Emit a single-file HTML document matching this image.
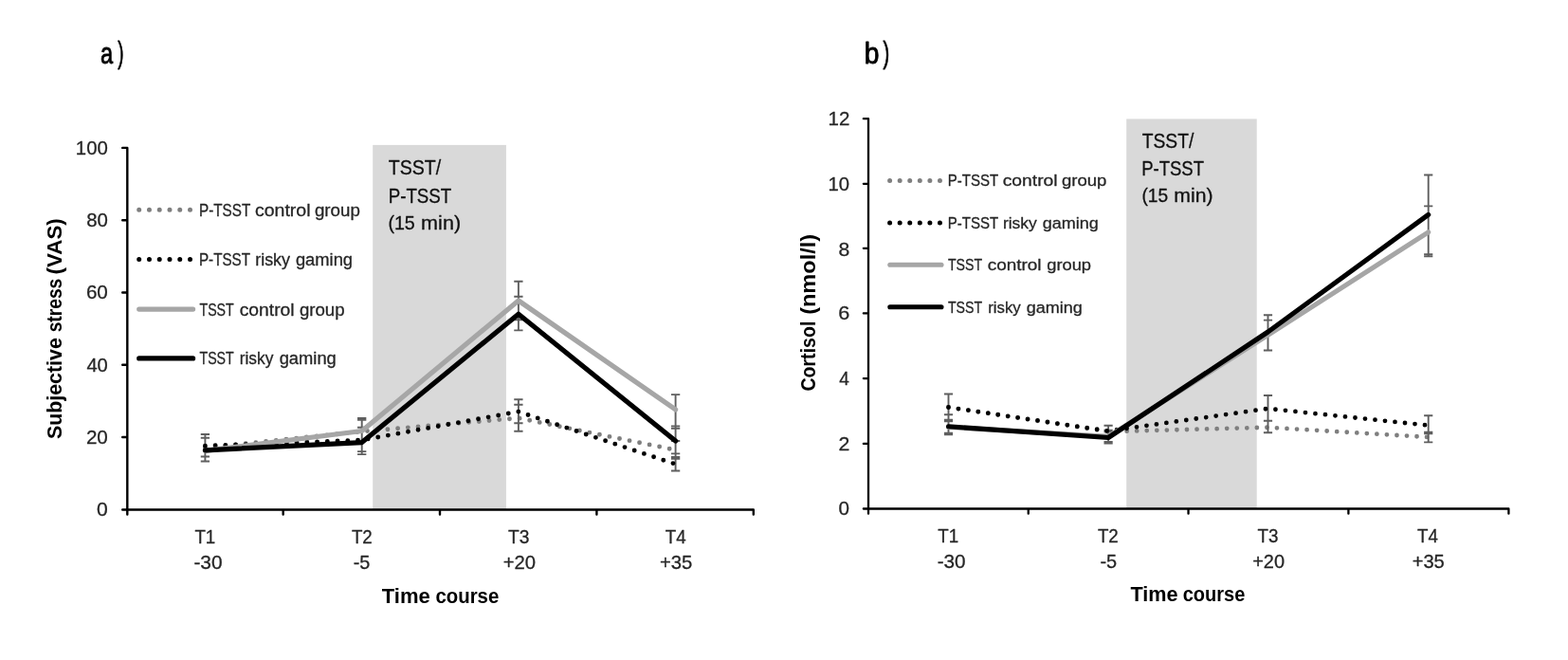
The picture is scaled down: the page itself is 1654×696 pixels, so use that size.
<!DOCTYPE html>
<html lang="en">
<head>
<meta charset="utf-8">
<title>Subjective stress (VAS) and cortisol (nmol/l) over the time course</title>
<style>
html,body{margin:0;padding:0;background:#fff;}
body{width:1654px;height:696px;overflow:hidden;}
svg{display:block;font-family:"Liberation Sans", sans-serif;}
</style>
</head>
<body>
<svg width="1654" height="696" viewBox="0 0 1654 696" role="img" aria-label="a) Subjective stress (VAS) and b) Cortisol (nmol/l) over the time course T1 to T4 for TSST and P-TSST groups">
<rect width="1654" height="696" fill="#fff"/>
<rect x="393.2" y="152.9" width="140.70" height="384.60" fill="#d9d9d9"/>
<polyline points="216.40,472.20 381.70,455.00 546.90,440.90 712.60,474.50" fill="none" stroke="#7f7f7f" stroke-width="4.9" stroke-linecap="round" stroke-linejoin="round" stroke-dasharray="0 10.75"/>
<path d="M216.40 457.96V486.50M211.75 457.96h9.30M211.75 461.76h9.30M211.75 481.50h9.30M211.75 486.50h9.30M381.70 441.00V479.10M377.05 441.00h9.30M377.05 442.80h9.30M377.05 450.70h9.30M377.05 476.10h9.30M377.05 479.10h9.30M546.90 296.70V348.40M542.25 296.70h9.30M542.25 312.80h9.30M542.25 337.20h9.30M542.25 348.40h9.30M546.90 421.20V454.80M542.25 421.20h9.30M542.25 426.70h9.30M542.25 446.20h9.30M542.25 454.80h9.30M712.60 416.10V496.50M707.95 416.10h9.30M707.95 449.40h9.30M707.95 451.70h9.30M707.95 465.00h9.30M707.95 478.40h9.30M707.95 482.00h9.30M707.95 483.80h9.30M707.95 496.50h9.30" fill="none" stroke="#5f5f5f" stroke-width="1.9"/>
<polyline points="216.40,470.20 381.70,464.10 546.90,434.10 712.60,489.50" fill="none" stroke="#000" stroke-width="4.9" stroke-linecap="round" stroke-linejoin="round" stroke-dasharray="0 10.75"/>
<polyline points="216.40,475.30 381.70,454.50 546.90,317.00 712.60,431.90" fill="none" stroke="#a6a6a6" stroke-width="5.2" stroke-linecap="round" stroke-linejoin="round"/>
<polyline points="216.40,474.80 381.70,466.60 546.90,331.20 712.60,465.00" fill="none" stroke="#000" stroke-width="5.2" stroke-linecap="round" stroke-linejoin="round"/>
<path d="M134.30 155.90V542.60M129.20 537.50H794.80M129.20 155.90H134.30M129.20 232.30H134.30M129.20 308.50H134.30M129.20 384.70H134.30M129.20 461.00H134.30M298.67 537.50V542.60M464.00 537.50V542.60M629.40 537.50V542.60M794.80 537.50V542.60" fill="none" stroke="#000" stroke-width="2.4" stroke-linecap="round" stroke-linejoin="round"/>
<path d="M146.7 221.3H201.5" stroke="#7f7f7f" stroke-width="5.0" stroke-linecap="round" stroke-dasharray="0 10.76"/>
<path d="M146.7 273.5H201.5" stroke="#000" stroke-width="5.0" stroke-linecap="round" stroke-dasharray="0 10.76"/>
<path d="M146.7 326.1H203.6" stroke="#a6a6a6" stroke-width="5.2" stroke-linecap="round"/>
<path d="M146.7 377.9H203.6" stroke="#000" stroke-width="5.2" stroke-linecap="round"/>
<rect x="1188.2" y="125.4" width="137.50" height="411.10" fill="#d9d9d9"/>
<polyline points="1000.50,429.50 1169.10,455.20 1337.50,450.70 1506.70,461.00" fill="none" stroke="#7f7f7f" stroke-width="4.8" stroke-linecap="round" stroke-linejoin="round" stroke-dasharray="0 10.56"/>
<path d="M1000.50 415.50V458.40M995.90 415.50h9.20M995.90 437.30h9.20M995.90 442.70h9.20M995.90 444.40h9.20M995.90 456.70h9.20M995.90 458.40h9.20M1169.10 448.80V467.60M1164.50 448.80h9.20M1164.50 453.60h9.20M1164.50 455.20h9.20M1164.50 465.90h9.20M1164.50 467.60h9.20M1337.50 332.20V369.50M1332.90 332.20h9.20M1332.90 337.60h9.20M1332.90 369.50h9.20M1337.50 417.00V456.30M1332.90 417.00h9.20M1332.90 443.70h9.20M1332.90 456.30h9.20M1506.70 184.50V270.20M1502.10 184.50h9.20M1502.10 217.40h9.20M1502.10 268.10h9.20M1502.10 270.20h9.20M1506.70 438.30V466.40M1502.10 438.30h9.20M1502.10 455.60h9.20M1502.10 457.20h9.20M1502.10 466.40h9.20" fill="none" stroke="#5f5f5f" stroke-width="1.9"/>
<polyline points="1000.50,429.50 1169.10,454.50 1337.50,430.90 1506.70,448.60" fill="none" stroke="#000" stroke-width="4.8" stroke-linecap="round" stroke-linejoin="round" stroke-dasharray="0 10.56"/>
<polyline points="1000.50,450.50 1169.10,460.30 1337.50,353.40 1506.70,244.80" fill="none" stroke="#a6a6a6" stroke-width="5.1" stroke-linecap="round" stroke-linejoin="round"/>
<polyline points="1000.50,449.80 1169.10,461.50 1337.50,350.00 1506.70,226.40" fill="none" stroke="#000" stroke-width="5.1" stroke-linecap="round" stroke-linejoin="round"/>
<path d="M916.00 125.20V541.65M910.85 536.50H1591.40M910.85 125.20H916.00M910.85 193.80H916.00M910.85 261.80H916.00M910.85 330.40H916.00M910.85 399.10H916.00M910.85 467.90H916.00M1084.75 536.50V541.65M1253.55 536.50V541.65M1422.40 536.50V541.65M1591.40 536.50V541.65" fill="none" stroke="#000" stroke-width="2.3" stroke-linecap="round" stroke-linejoin="round"/>
<path d="M938.6 190.4H992.9" stroke="#7f7f7f" stroke-width="5.0" stroke-linecap="round" stroke-dasharray="0 10.57"/>
<path d="M938.6 234.9H992.9" stroke="#000" stroke-width="5.0" stroke-linecap="round" stroke-dasharray="0 10.57"/>
<path d="M938.8 279.2H993.0" stroke="#a6a6a6" stroke-width="5.1" stroke-linecap="round"/>
<path d="M938.8 323.7H993.0" stroke="#000" stroke-width="5.1" stroke-linecap="round"/>
<text id="La" y="67.00" font-size="32.2" stroke="#000" stroke-width="0.9" stroke-linejoin="round" fill="#000"><tspan id="La_0" x="105.94" textLength="13.11" lengthAdjust="spacingAndGlyphs">a</tspan><tspan id="La_1" x="124.15" dy="-1" textLength="6.20" lengthAdjust="spacingAndGlyphs">)</tspan></text>
<text id="Ly100" y="163.00" font-size="20.8" stroke="#262626" stroke-width="0.3" stroke-linejoin="round" fill="#262626"><tspan id="Ly100_0" x="79.86" textLength="33.95" lengthAdjust="spacingAndGlyphs">100</tspan></text>
<text id="Ly80" y="239.00" font-size="20.8" stroke="#262626" stroke-width="0.3" stroke-linejoin="round" fill="#262626"><tspan id="Ly80_0" x="91.19" textLength="22.65" lengthAdjust="spacingAndGlyphs">80</tspan></text>
<text id="Ly60" y="315.00" font-size="20.8" stroke="#262626" stroke-width="0.3" stroke-linejoin="round" fill="#262626"><tspan id="Ly60_0" x="90.92" textLength="22.93" lengthAdjust="spacingAndGlyphs">60</tspan></text>
<text id="Ly40" y="392.00" font-size="20.8" stroke="#262626" stroke-width="0.3" stroke-linejoin="round" fill="#262626"><tspan id="Ly40_0" x="91.43" textLength="22.37" lengthAdjust="spacingAndGlyphs">40</tspan></text>
<text id="Ly20" y="468.00" font-size="20.8" stroke="#262626" stroke-width="0.3" stroke-linejoin="round" fill="#262626"><tspan id="Ly20_0" x="90.92" textLength="22.93" lengthAdjust="spacingAndGlyphs">20</tspan></text>
<text id="Ly0" y="544.00" font-size="20.8" stroke="#262626" stroke-width="0.3" stroke-linejoin="round" fill="#262626"><tspan id="Ly0_0" x="102.10" textLength="11.74" lengthAdjust="spacingAndGlyphs">0</tspan></text>
<text id="Lx0a" y="573.00" font-size="20.2" stroke="#262626" stroke-width="0.3" stroke-linejoin="round" fill="#262626"><tspan id="Lx0a_0" x="205.43" textLength="21.88" lengthAdjust="spacingAndGlyphs">T1</tspan></text>
<text id="Lx0b" y="600.00" font-size="20.8" stroke="#262626" stroke-width="0.3" stroke-linejoin="round" fill="#262626"><tspan id="Lx0b_0" x="204.43" textLength="30.14" lengthAdjust="spacingAndGlyphs">-30</tspan></text>
<text id="Lx1a" y="573.00" font-size="20.2" stroke="#262626" stroke-width="0.3" stroke-linejoin="round" fill="#262626"><tspan id="Lx1a_0" x="370.91" textLength="21.90" lengthAdjust="spacingAndGlyphs">T2</tspan></text>
<text id="Lx1b" y="600.00" font-size="20.8" stroke="#262626" stroke-width="0.3" stroke-linejoin="round" fill="#262626"><tspan id="Lx1b_0" x="372.66" textLength="17.68" lengthAdjust="spacingAndGlyphs">-5</tspan></text>
<text id="Lx2a" y="573.00" font-size="20.2" stroke="#262626" stroke-width="0.3" stroke-linejoin="round" fill="#262626"><tspan id="Lx2a_0" x="535.94" textLength="22.39" lengthAdjust="spacingAndGlyphs">T3</tspan></text>
<text id="Lx2b" y="600.00" font-size="20.8" stroke="#262626" stroke-width="0.3" stroke-linejoin="round" fill="#262626"><tspan id="Lx2b_0" x="530.67" textLength="34.40" lengthAdjust="spacingAndGlyphs">+20</tspan></text>
<text id="Lx3a" y="573.00" font-size="20.2" stroke="#262626" stroke-width="0.3" stroke-linejoin="round" fill="#262626"><tspan id="Lx3a_0" x="701.69" textLength="21.87" lengthAdjust="spacingAndGlyphs">T4</tspan></text>
<text id="Lx3b" y="600.00" font-size="20.8" stroke="#262626" stroke-width="0.3" stroke-linejoin="round" fill="#262626"><tspan id="Lx3b_0" x="695.92" textLength="34.38" lengthAdjust="spacingAndGlyphs">+35</tspan></text>
<text id="Lxt" y="636.00" font-size="21.8" font-weight="700" fill="#000"><tspan id="Lxt_0" x="402.70" textLength="51.10" lengthAdjust="spacingAndGlyphs">Time</tspan> <tspan id="Lxt_1" x="459.43" textLength="66.87" lengthAdjust="spacingAndGlyphs">course</tspan></text>
<text id="Lyt" transform="translate(65.00 0) rotate(-90)" font-size="22.2" font-weight="700" fill="#000"><tspan id="Lyt_0" x="-463.05" textLength="106.86" lengthAdjust="spacingAndGlyphs">Subjective</tspan> <tspan id="Lyt_1" x="-350.32" textLength="56.63" lengthAdjust="spacingAndGlyphs">stress</tspan> <tspan id="Lyt_2" x="-289.58" textLength="59.42" lengthAdjust="spacingAndGlyphs">(VAS)</tspan></text>
<text id="Ll1" y="228.00" font-size="17.6" stroke="#262626" stroke-width="0.3" stroke-linejoin="round" fill="#262626"><tspan id="Ll1_0" x="209.94" textLength="54.11" lengthAdjust="spacingAndGlyphs">P-TSST</tspan> <tspan id="Ll1_1" x="268.93" textLength="58.65" lengthAdjust="spacingAndGlyphs">control</tspan> <tspan id="Ll1_2" x="331.94" textLength="47.89" lengthAdjust="spacingAndGlyphs">group</tspan></text>
<text id="Ll2" y="280.00" font-size="17.6" stroke="#262626" stroke-width="0.3" stroke-linejoin="round" fill="#262626"><tspan id="Ll2_0" x="209.94" textLength="53.86" lengthAdjust="spacingAndGlyphs">P-TSST</tspan> <tspan id="Ll2_1" x="269.18" textLength="36.87" lengthAdjust="spacingAndGlyphs">risky</tspan> <tspan id="Ll2_2" x="311.93" textLength="60.14" lengthAdjust="spacingAndGlyphs">gaming</tspan></text>
<text id="Ll3" y="333.00" font-size="17.6" stroke="#262626" stroke-width="0.3" stroke-linejoin="round" fill="#262626"><tspan id="Ll3_0" x="210.45" textLength="36.10" lengthAdjust="spacingAndGlyphs">TSST</tspan> <tspan id="Ll3_1" x="252.69" textLength="57.89" lengthAdjust="spacingAndGlyphs">control</tspan> <tspan id="Ll3_2" x="315.94" textLength="47.63" lengthAdjust="spacingAndGlyphs">group</tspan></text>
<text id="Ll4" y="384.00" font-size="17.6" stroke="#262626" stroke-width="0.3" stroke-linejoin="round" fill="#262626"><tspan id="Ll4_0" x="210.45" textLength="36.10" lengthAdjust="spacingAndGlyphs">TSST</tspan> <tspan id="Ll4_1" x="252.68" textLength="35.64" lengthAdjust="spacingAndGlyphs">risky</tspan> <tspan id="Ll4_2" x="294.68" textLength="60.14" lengthAdjust="spacingAndGlyphs">gaming</tspan></text>
<text id="La1" y="184.00" font-size="22.8" stroke="#111" stroke-width="0.3" stroke-linejoin="round" fill="#111"><tspan id="La1_0" x="409.70" textLength="55.60" lengthAdjust="spacingAndGlyphs">TSST/</tspan></text>
<text id="La2" y="214.00" font-size="22.8" stroke="#111" stroke-width="0.3" stroke-linejoin="round" fill="#111"><tspan id="La2_0" x="409.68" textLength="66.63" lengthAdjust="spacingAndGlyphs">P-TSST</tspan></text>
<text id="La3" y="242.00" font-size="20.6" stroke="#111" stroke-width="0.3" stroke-linejoin="round" fill="#111"><tspan id="La3_0" x="409.39" textLength="28.44" lengthAdjust="spacingAndGlyphs">(15</tspan> <tspan id="La3_1" x="444.12" textLength="41.99" lengthAdjust="spacingAndGlyphs">min)</tspan></text>
<text id="Rb" y="67.00" font-size="32.2" stroke="#000" stroke-width="0.9" stroke-linejoin="round" fill="#000"><tspan id="Rb_0" x="911.74" textLength="15.68" lengthAdjust="spacingAndGlyphs">b</tspan><tspan id="Rb_1" x="931.44" dy="-1" textLength="6.68" lengthAdjust="spacingAndGlyphs">)</tspan></text>
<text id="Ry12" y="132.00" font-size="20.6" stroke="#262626" stroke-width="0.3" stroke-linejoin="round" fill="#262626"><tspan id="Ry12_0" x="873.59" textLength="22.84" lengthAdjust="spacingAndGlyphs">12</tspan></text>
<text id="Ry10" y="201.00" font-size="20.6" stroke="#262626" stroke-width="0.3" stroke-linejoin="round" fill="#262626"><tspan id="Ry10_0" x="873.61" textLength="22.53" lengthAdjust="spacingAndGlyphs">10</tspan></text>
<text id="Ry8" y="270.00" font-size="20.6" stroke="#262626" stroke-width="0.3" stroke-linejoin="round" fill="#262626"><tspan id="Ry8_0" x="884.59" textLength="11.80" lengthAdjust="spacingAndGlyphs">8</tspan></text>
<text id="Ry6" y="337.00" font-size="20.6" stroke="#262626" stroke-width="0.3" stroke-linejoin="round" fill="#262626"><tspan id="Ry6_0" x="884.32" textLength="12.07" lengthAdjust="spacingAndGlyphs">6</tspan></text>
<text id="Ry4" y="406.00" font-size="20.6" stroke="#262626" stroke-width="0.3" stroke-linejoin="round" fill="#262626"><tspan id="Ry4_0" x="885.21" textLength="10.61" lengthAdjust="spacingAndGlyphs">4</tspan></text>
<text id="Ry2" y="475.00" font-size="20.6" stroke="#262626" stroke-width="0.3" stroke-linejoin="round" fill="#262626"><tspan id="Ry2_0" x="884.58" textLength="11.84" lengthAdjust="spacingAndGlyphs">2</tspan></text>
<text id="Ry0" y="543.00" font-size="20.6" stroke="#262626" stroke-width="0.3" stroke-linejoin="round" fill="#262626"><tspan id="Ry0_0" x="884.61" textLength="11.48" lengthAdjust="spacingAndGlyphs">0</tspan></text>
<text id="Rx0a" y="572.00" font-size="20.0" stroke="#262626" stroke-width="0.3" stroke-linejoin="round" fill="#262626"><tspan id="Rx0a_0" x="989.19" textLength="21.87" lengthAdjust="spacingAndGlyphs">T1</tspan></text>
<text id="Rx0b" y="599.00" font-size="20.6" stroke="#262626" stroke-width="0.3" stroke-linejoin="round" fill="#262626"><tspan id="Rx0b_0" x="988.68" textLength="29.91" lengthAdjust="spacingAndGlyphs">-30</tspan></text>
<text id="Rx1a" y="572.00" font-size="20.0" stroke="#262626" stroke-width="0.3" stroke-linejoin="round" fill="#262626"><tspan id="Rx1a_0" x="1157.93" textLength="21.88" lengthAdjust="spacingAndGlyphs">T2</tspan></text>
<text id="Rx1b" y="599.00" font-size="20.6" stroke="#262626" stroke-width="0.3" stroke-linejoin="round" fill="#262626"><tspan id="Rx1b_0" x="1160.41" textLength="17.70" lengthAdjust="spacingAndGlyphs">-5</tspan></text>
<text id="Rx2a" y="572.00" font-size="20.0" stroke="#262626" stroke-width="0.3" stroke-linejoin="round" fill="#262626"><tspan id="Rx2a_0" x="1326.44" textLength="21.89" lengthAdjust="spacingAndGlyphs">T3</tspan></text>
<text id="Rx2b" y="599.00" font-size="20.6" stroke="#262626" stroke-width="0.3" stroke-linejoin="round" fill="#262626"><tspan id="Rx2b_0" x="1321.18" textLength="33.87" lengthAdjust="spacingAndGlyphs">+20</tspan></text>
<text id="Rx3a" y="572.00" font-size="20.0" stroke="#262626" stroke-width="0.3" stroke-linejoin="round" fill="#262626"><tspan id="Rx3a_0" x="1494.95" textLength="21.87" lengthAdjust="spacingAndGlyphs">T4</tspan></text>
<text id="Rx3b" y="599.00" font-size="20.6" stroke="#262626" stroke-width="0.3" stroke-linejoin="round" fill="#262626"><tspan id="Rx3b_0" x="1489.67" textLength="34.16" lengthAdjust="spacingAndGlyphs">+35</tspan></text>
<text id="Rxt" y="634.00" font-size="21.6" font-weight="700" fill="#000"><tspan id="Rxt_0" x="1192.45" textLength="50.11" lengthAdjust="spacingAndGlyphs">Time</tspan> <tspan id="Rxt_1" x="1247.69" textLength="65.64" lengthAdjust="spacingAndGlyphs">course</tspan></text>
<text id="Ryt" transform="translate(860.00 0) rotate(-90)" font-size="21.6" font-weight="700" fill="#000"><tspan id="Ryt_0" x="-412.57" textLength="73.88" lengthAdjust="spacingAndGlyphs">Cortisol</tspan> <tspan id="Ryt_1" x="-331.83" textLength="84.90" lengthAdjust="spacingAndGlyphs">(nmol/l)</tspan></text>
<text id="Rl1" y="196.00" font-size="17.4" stroke="#262626" stroke-width="0.3" stroke-linejoin="round" fill="#262626"><tspan id="Rl1_0" x="999.71" textLength="53.10" lengthAdjust="spacingAndGlyphs">P-TSST</tspan> <tspan id="Rl1_1" x="1057.68" textLength="57.90" lengthAdjust="spacingAndGlyphs">control</tspan> <tspan id="Rl1_2" x="1119.94" textLength="47.38" lengthAdjust="spacingAndGlyphs">group</tspan></text>
<text id="Rl2" y="241.00" font-size="17.4" stroke="#262626" stroke-width="0.3" stroke-linejoin="round" fill="#262626"><tspan id="Rl2_0" x="999.71" textLength="53.10" lengthAdjust="spacingAndGlyphs">P-TSST</tspan> <tspan id="Rl2_1" x="1057.94" textLength="35.87" lengthAdjust="spacingAndGlyphs">risky</tspan> <tspan id="Rl2_2" x="1099.68" textLength="59.14" lengthAdjust="spacingAndGlyphs">gaming</tspan></text>
<text id="Rl3" y="285.00" font-size="17.4" stroke="#262626" stroke-width="0.3" stroke-linejoin="round" fill="#262626"><tspan id="Rl3_0" x="999.95" textLength="35.85" lengthAdjust="spacingAndGlyphs">TSST</tspan> <tspan id="Rl3_1" x="1041.68" textLength="56.91" lengthAdjust="spacingAndGlyphs">control</tspan> <tspan id="Rl3_2" x="1104.19" textLength="46.87" lengthAdjust="spacingAndGlyphs">group</tspan></text>
<text id="Rl4" y="330.00" font-size="17.4" stroke="#262626" stroke-width="0.3" stroke-linejoin="round" fill="#262626"><tspan id="Rl4_0" x="999.95" textLength="35.85" lengthAdjust="spacingAndGlyphs">TSST</tspan> <tspan id="Rl4_1" x="1042.18" textLength="34.63" lengthAdjust="spacingAndGlyphs">risky</tspan> <tspan id="Rl4_2" x="1082.69" textLength="59.13" lengthAdjust="spacingAndGlyphs">gaming</tspan></text>
<text id="Ra1" y="156.00" font-size="22.6" stroke="#111" stroke-width="0.3" stroke-linejoin="round" fill="#111"><tspan id="Ra1_0" x="1204.70" textLength="54.60" lengthAdjust="spacingAndGlyphs">TSST/</tspan></text>
<text id="Ra2" y="185.00" font-size="22.6" stroke="#111" stroke-width="0.3" stroke-linejoin="round" fill="#111"><tspan id="Ra2_0" x="1204.17" textLength="65.89" lengthAdjust="spacingAndGlyphs">P-TSST</tspan></text>
<text id="Ra3" y="213.00" font-size="20.4" stroke="#111" stroke-width="0.3" stroke-linejoin="round" fill="#111"><tspan id="Ra3_0" x="1204.39" textLength="27.70" lengthAdjust="spacingAndGlyphs">(15</tspan> <tspan id="Ra3_1" x="1238.36" textLength="41.20" lengthAdjust="spacingAndGlyphs">min)</tspan></text>
</svg>
</body>
</html>
